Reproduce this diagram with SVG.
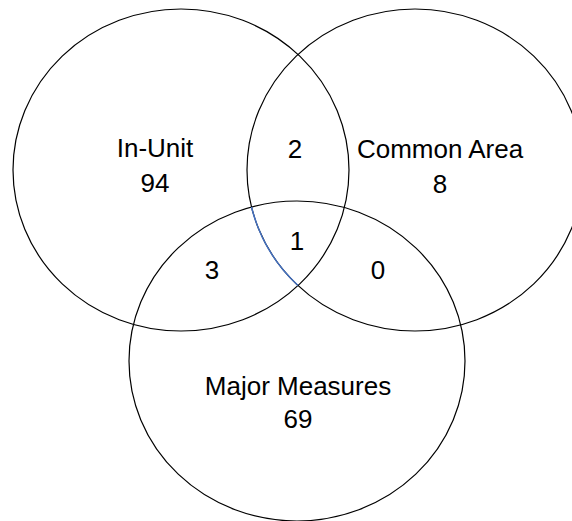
<svg xmlns="http://www.w3.org/2000/svg" width="572" height="521" viewBox="0 0 572 521">
  <style>
    .set { fill: none; stroke: #000; stroke-width: 1.2; }
    .lbl { font-family: "Liberation Sans", Arial, sans-serif; font-size: 26px; fill: #000; text-anchor: middle; }
    .hl { fill: none; stroke: #4472C4; stroke-width: 1.4; }
  </style>
  <rect width="572" height="521" fill="#fff"/>
  <g id="in-unit">
    <ellipse class="set" cx="181" cy="170" rx="168" ry="161"/>
    <text class="lbl" x="155" y="157">In-Unit</text>
    <text class="lbl" x="155" y="192">94</text>
  </g>
  <g id="common-area">
    <ellipse class="set" cx="415" cy="170" rx="168" ry="161"/>
    <text class="lbl" x="440" y="158">Common Area</text>
    <text class="lbl" x="440" y="193">8</text>
  </g>
  <g id="major-measures">
    <ellipse class="set" cx="297" cy="361" rx="168" ry="160"/>
    <text class="lbl" x="298" y="395">Major Measures</text>
    <text class="lbl" x="298" y="428">69</text>
  </g>
  <g id="overlaps">
    <text class="lbl" x="295" y="158">2</text>
    <text class="lbl" x="212" y="279">3</text>
    <text class="lbl" x="297" y="250">1</text>
    <text class="lbl" x="378" y="279">0</text>
  </g>
  <g id="connectors">
    <path class="hl" d="M 251.5 207 A 168 161 0 0 0 298 285.5"/>
  </g>
</svg>
